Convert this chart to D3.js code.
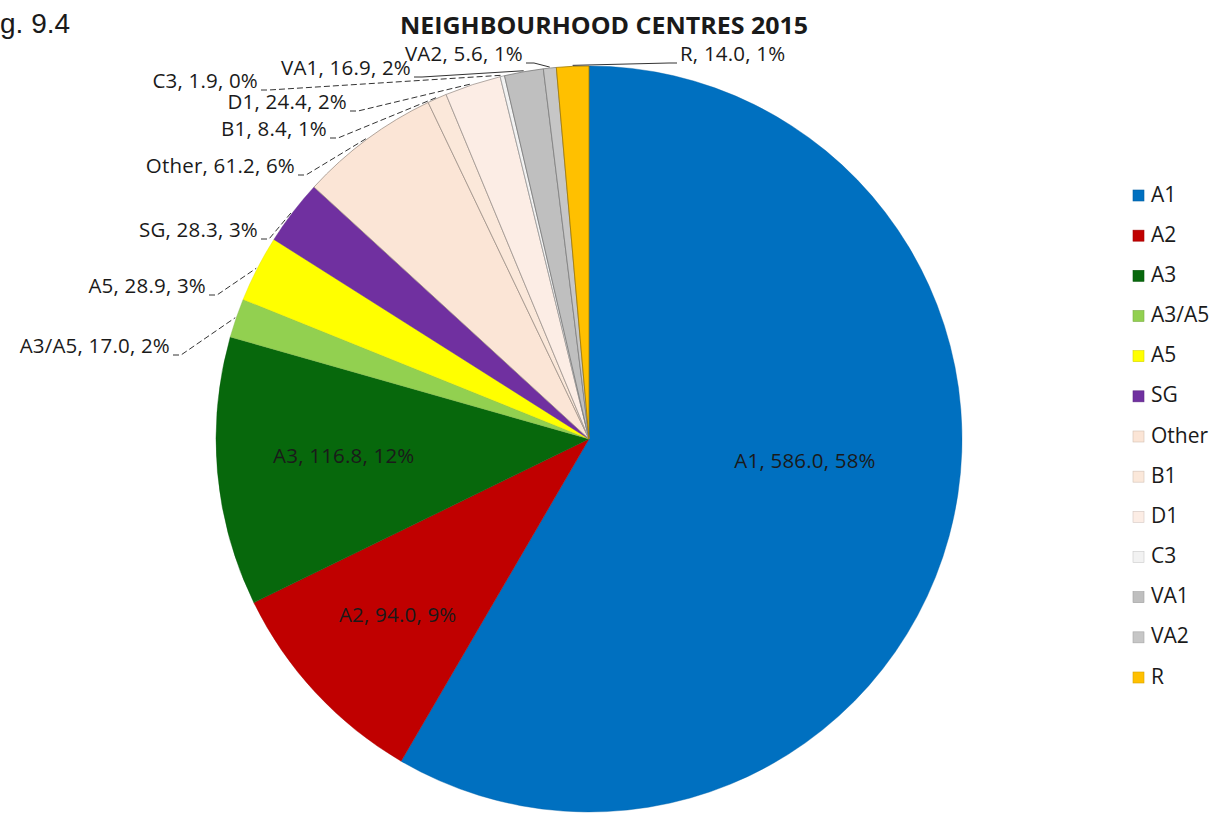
<!DOCTYPE html>
<html>
<head>
<meta charset="utf-8">
<script src="https://cdn.jsdelivr.net/npm/d3@7"></script>
<style>
  html, body { margin: 0; padding: 0; background: #fff; }
  svg { display: block; }
  text { font-family: "Open Sans", Lato, sans-serif; fill: #1a1a1a; }
</style>
</head>
<body>
<svg id="chart" width="1230" height="828"></svg>
<script>
// Floorspace by use class, neighbourhood centres 2015
const categories = ["A1", "A2", "A3", "A3/A5", "A5", "SG", "Other", "B1", "D1", "C3", "VA1", "VA2", "R"];
const values = [586.0, 94.0, 116.8, 17.0, 28.9, 28.3, 61.2, 8.4, 24.4, 1.9, 16.9, 5.6, 14.0];
const colors = ["#0070C0", "#C00000", "#07680C", "#92D050", "#FFFF00", "#7030A0",
                "#FBE5D6", "#FBE8DA", "#FCEDE5", "#F2F2F2", "#BFBFBF", "#C6C6C6", "#FFC000"];
const titleText = "NEIGHBOURHOOD CENTRES 2015";
const figText = "g. 9.4";

const data = categories.map((c, i) => ({ name: c, value: values[i], color: colors[i] }));
const total = d3.sum(values);

const svg = d3.select("#chart");
const cx = 589, cy = 439, R = 373;
const labelSize = "20.5px";
const labelSpacing = "0.2px";

// figure number, top-left
svg.append("text")
  .attr("x", 0).attr("y", 33)
  .style("font-family", "'Liberation Sans', Arial, sans-serif")
  .style("font-size", "28px")
  .text(figText);

// title
svg.append("text")
  .attr("x", 604).attr("y", 34)
  .attr("text-anchor", "middle")
  .style("font-size", "23px")
  .style("font-weight", "bold")
  .attr("textLength", 408)
  .attr("lengthAdjust", "spacingAndGlyphs")
  .text(titleText);

const pie = d3.pie().sort(null).value(d => d.value).startAngle(0).endAngle(2 * Math.PI);
const arcs = pie(data);
const arc = d3.arc().innerRadius(0).outerRadius(R);

const g = svg.append("g").attr("transform", `translate(${cx},${cy})`);

g.selectAll("path.slice")
  .data(arcs)
  .enter().append("path")
  .attr("class", "slice")
  .attr("d", arc)
  .attr("fill", d => d.data.color)
  .attr("stroke", d => d3.color(d.data.color).darker(d.index > 5 ? 1.3 : 0.4))
  .attr("stroke-width", d => (d.index > 5 ? 0.8 : 0.4));

const fmtVal = d3.format(".1f");
const labelText = d => `${d.data.name}, ${fmtVal(d.data.value)}, ${Math.round(d.data.value / total * 100)}%`;

// labels drawn inside the three largest slices (radius factor, vertical nudge)
const insideLayout = { "A1": [0.60, -35], "A2": [0.70, 0], "A3": [0.66, -3] };
// labels placed outside: text anchor point relative to pie centre, leader style
const outsideLayout = {
  "A3/A5": [-419, -91, "end", true],
  "A5":    [-383, -151, "end", true],
  "SG":    [-331, -207, "end", true],
  "Other": [-294, -271, "end", true],
  "B1":    [-262, -308, "end", true],
  "D1":    [-242, -335, "end", true],
  "C3":    [-331, -356, "end", true],
  "VA1":   [-178, -369, "end", false],
  "VA2":   [-66,  -383, "end", false],
  "R":     [91,   -383, "start", false]
};

arcs.forEach(d => {
  const name = d.data.name;
  const mid = (d.startAngle + d.endAngle) / 2;
  if (insideLayout[name]) {
    const [k, dy] = insideLayout[name];
    const r = R * k;
    g.append("text")
      .attr("x", Math.sin(mid) * r)
      .attr("y", -Math.cos(mid) * r + dy)
      .attr("text-anchor", "middle")
      .attr("dominant-baseline", "middle")
      .style("font-size", labelSize)
      .style("letter-spacing", labelSpacing)
      .text(labelText(d));
  } else if (outsideLayout[name]) {
    const [lx, ly, anchor, dashed] = outsideLayout[name];
    g.append("text")
      .attr("x", lx).attr("y", ly)
      .attr("text-anchor", anchor)
      .attr("dominant-baseline", "middle")
      .style("font-size", labelSize)
      .style("letter-spacing", labelSpacing)
      .text(labelText(d));
    // leader line: short tick at the label's baseline, then to the slice edge
    const dir = anchor === "end" ? 1 : -1;
    const x0 = lx + dir * 3, y0 = ly + 7;
    const x1 = lx + dir * 11;
    const ex = Math.sin(mid) * (R + 1), ey = -Math.cos(mid) * (R + 1);
    g.append("path")
      .attr("d", d3.line()([[x0, y0], [x1, y0], [ex, ey]]))
      .attr("fill", "none")
      .attr("stroke", "#333")
      .attr("stroke-width", 1)
      .attr("stroke-dasharray", dashed ? "6,3" : null);
  }
});

// legend
const ly = d3.scalePoint().domain(categories).range([195, 677]);
const legend = svg.append("g");
const items = legend.selectAll("g.item")
  .data(data)
  .enter().append("g")
  .attr("class", "item")
  .attr("transform", d => `translate(1133,${ly(d.name)})`);
items.append("rect")
  .attr("x", 0).attr("y", -5)
  .attr("width", 11).attr("height", 11)
  .attr("fill", d => d.color)
  .attr("stroke", d => d3.color(d.color).darker(0.5))
  .attr("stroke-width", 0.6);
items.append("text")
  .attr("x", 18).attr("y", 1)
  .attr("dominant-baseline", "middle")
  .style("font-size", "21px")
  .text(d => d.name);
</script>
</body>
</html>
